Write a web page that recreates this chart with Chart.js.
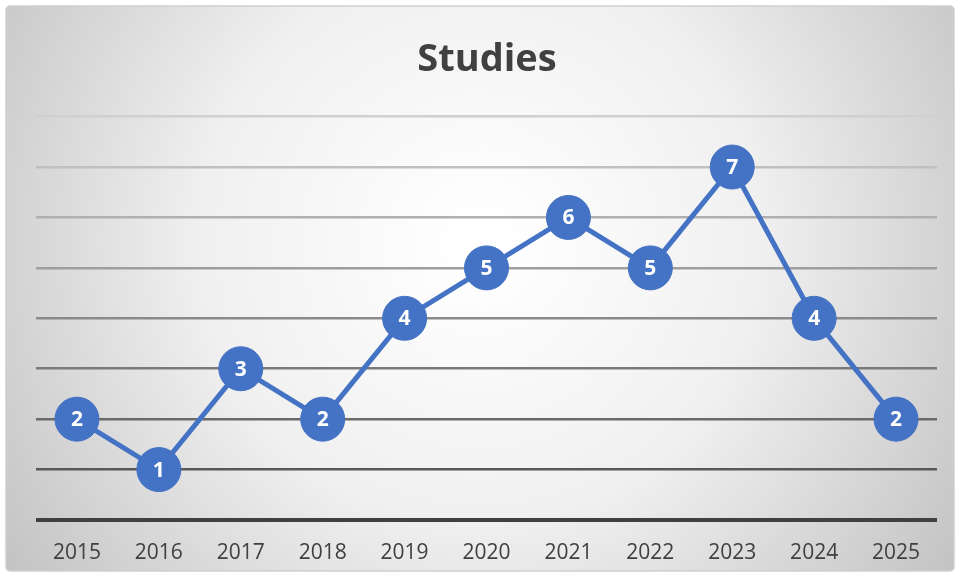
<!DOCTYPE html>
<html>
<head>
<meta charset="utf-8">
<script src="https://cdn.jsdelivr.net/npm/chart.js@4"></script>
<style>
  html, body { margin: 0; padding: 0; background: #ffffff; }
  #wrap { width: 960px; height: 577px; position: relative; }
</style>
</head>
<body>
<div id="wrap"><canvas id="studiesChart"></canvas></div>
<script>
const years = ["2015", "2016", "2017", "2018", "2019", "2020", "2021", "2022", "2023", "2024", "2025"];
const studies = [2, 1, 3, 2, 4, 5, 6, 5, 7, 4, 2];
const gridShades = ["#404040", "#585858", "#6a6a6a", "#7a7a7a", "#8a8a8a", "#9e9e9e", "#b0b0b0", "#c0c0c0", "#d0d0d0"];

const FONT = "'Open Sans', 'Liberation Sans', sans-serif";

// soft radial backdrop with a thin rounded frame
const backdrop = {
  id: "backdrop",
  beforeDraw(chart) {
    const { ctx, width, height } = chart;
    ctx.save();
    const g = ctx.createRadialGradient(width * 0.5, height * 0.42, 20, width * 0.5, height * 0.42, width * 0.62);
    g.addColorStop(0, "#ffffff");
    g.addColorStop(0.45, "#f0f0f0");
    g.addColorStop(1, "#c0c0c0");
    ctx.fillStyle = g;
    ctx.beginPath();
    ctx.roundRect(6, 6, width - 12, height - 12, 4);
    ctx.fill();
    ctx.strokeStyle = "#d0d0d0";
    ctx.lineWidth = 1.5;
    ctx.stroke();
    ctx.restore();
  }
};

// value written inside each marker
const pointValues = {
  id: "pointValues",
  afterDatasetsDraw(chart) {
    const { ctx } = chart;
    const meta = chart.getDatasetMeta(0);
    ctx.save();
    ctx.fillStyle = "#ffffff";
    ctx.font = "bold 21px " + FONT;
    ctx.textAlign = "center";
    ctx.textBaseline = "middle";
    meta.data.forEach((pt, i) => {
      ctx.fillText(String(chart.data.datasets[0].data[i]), pt.x, pt.y + 1);
    });
    ctx.restore();
  }
};

new Chart(document.getElementById("studiesChart"), {
  type: "line",
  data: {
    labels: years,
    datasets: [{
      data: studies,
      borderColor: "#4472c4",
      borderWidth: 5,
      backgroundColor: "#4472c4",
      pointBackgroundColor: "#4472c4",
      pointBorderColor: "#4472c4",
      pointBorderWidth: 1,
      pointRadius: 22,
      pointHoverRadius: 22,
      tension: 0,
      fill: false,
      clip: false
    }]
  },
  options: {
    responsive: true,
    maintainAspectRatio: false,
    animation: false,
    events: [],
    layout: { padding: { left: 36, right: 22, top: 0, bottom: 0 } },
    plugins: {
      legend: { display: false },
      tooltip: { enabled: false },
      title: {
        display: true,
        text: "Studies",
        color: "#404040",
        font: { family: FONT, size: 38, weight: "bold" },
        padding: { top: 37, bottom: 34 }
      }
    },
    scales: {
      x: {
        offset: true,
        grid: { display: false, drawTicks: false },
        border: { display: false },
        ticks: {
          color: "#404040",
          padding: 20,
          font: { family: FONT, size: 21 }
        },
        afterFit(scale) { scale.height = 57; }
      },
      y: {
        min: 0,
        max: 8,
        ticks: { display: false, stepSize: 1 },
        border: { display: false },
        grid: {
          drawTicks: false,
          color: (c) => gridShades[c.tick.value] || "#cccccc",
          lineWidth: (c) => (c.tick.value === 0 ? 4 : 2.5)
        },
        afterFit(scale) { scale.width = 0; }
      }
    }
  },
  plugins: [backdrop, pointValues]
});
</script>
</body>
</html>
